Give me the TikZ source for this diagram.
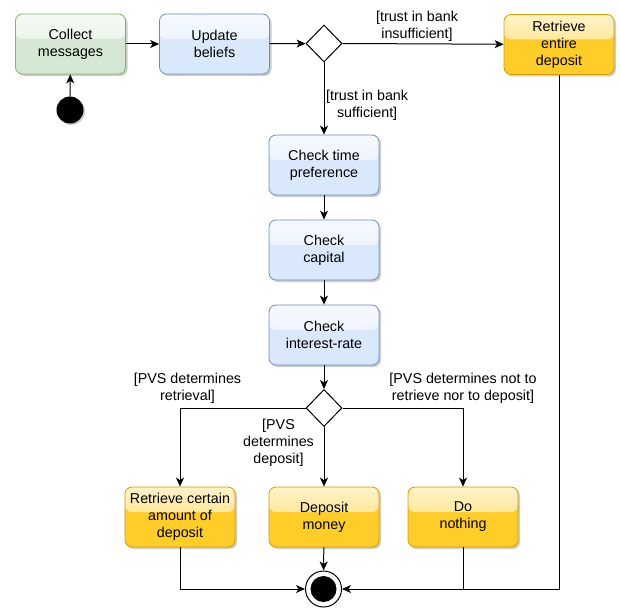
\documentclass[tikz,border=0pt]{standalone}
\usepackage{fontspec}
\setmainfont{Liberation Sans}
\usetikzlibrary{arrows.meta,shapes.geometric,shadows}

\definecolor{greenfill}{HTML}{D5E8D4}
\definecolor{greenline}{HTML}{82B366}
\definecolor{bluefill}{HTML}{DAE8FC}
\definecolor{blueline}{HTML}{6C8EBF}
\definecolor{goldfill}{HTML}{FFCD28}
\definecolor{goldline}{HTML}{D79B00}

\tikzset{
  txt/.style={font=\fontsize{14.3}{17}\selectfont, align=center},
  activity/.style 2 args={txt, rounded corners=7pt, minimum width=110pt, minimum height=60pt,
    inner sep=2pt, line width=0.8pt, draw=#2, fill=#1,
    drop shadow={shadow xshift=2pt, shadow yshift=-2pt, opacity=0.2, fill=black},
    path picture={\shade[top color=#1!25!white, bottom color=#1!75!white]
      (path picture bounding box.north west) rectangle
      ([yshift=-25pt]path picture bounding box.north east);}},
  greenact/.style={activity={greenfill}{greenline}},
  blueact/.style={activity={bluefill}{blueline}},
  goldact/.style={activity={goldfill}{goldline}},
  choice/.style={diamond, draw=black, fill=white, line width=1pt, inner sep=0pt,
    minimum width=36pt, minimum height=37pt},
  flow/.style={draw=black, line width=1pt, -{Stealth[length=9pt, width=8pt, inset=2.5pt]}},
  plain/.style={draw=black, line width=1pt},
  guard/.style={txt, inner sep=0pt}
}

\begin{document}
\begin{tikzpicture}[x=1pt, y=-1pt]
\useasboundingbox (0,0) rectangle (620,607);

% activities
\node[greenact] (collect) at (70.5,44) {Collect\\messages};
\node[blueact]  (update)  at (214.5,44) {Update\\beliefs};
\node[goldact]  (entire)  at (559,44.5) {Retrieve\\entire\\deposit};
\node[blueact]  (time)    at (324,165) {Check time\\preference};
\node[blueact]  (capital) at (324,250) {Check\\capital};
\node[blueact]  (rate)    at (324,335) {Check\\interest-rate};
\node[goldact]  (retr)    at (180,517) {Retrieve certain\\amount of\\deposit};
\node[goldact]  (depo)    at (324,517) {Deposit\\money};
\node[goldact]  (none)    at (463,517) {Do\\nothing};

% decisions
\node[choice] (d1) at (324,43.5) {};
\node[choice] (d2) at (324,408) {};

% start and end
\node[circle, fill=black, minimum size=27pt, inner sep=0pt,
      drop shadow={shadow xshift=1.5pt, shadow yshift=-1.5pt, opacity=0.2, fill=black}] (start) at (70,110) {};
\node[circle, draw=black, fill=white, line width=1pt, minimum size=36pt, inner sep=0pt] (end) at (323.5,589) {};
\node[circle, fill=black, minimum size=26pt, inner sep=0pt] (endin) at (end.center) {};

% guard labels
\node[guard] (g1) at (417,26) {[trust in bank\\insufficient]};
\node[guard, anchor=west] (g2) at (326,105) {[trust in bank\\sufficient]};
\node[guard] (g3) at (187.5,388) {[PVS determines\\retrieval]};
\node[guard] (g4) at (463,388) {[PVS determines not to\\retrieve nor to deposit]};
\node[guard] (g5) at (278.5,443) {[PVS\\determines\\deposit]};

% control flow
\draw[flow] (start) -- (collect);
\draw[flow] (collect) -- (update);
\draw[flow] (update) -- (d1);
\draw[flow] (d1.east) -- (entire);
\draw[flow] (d1.south) -- (time);
\draw[flow] (time) -- (capital);
\draw[flow] (capital) -- (rate);
\draw[flow] (rate) -- (d2);
\draw[flow] (d2.west) -| (retr);
\draw[flow] (d2.south) -- (depo);
\draw[flow] (d2.east) -| (none);
\draw[flow] (retr.south) |- (end.west);
\draw[flow] (depo) -- (end);
\draw[flow] (none.south) |- (end.east);
\draw[plain] (entire.south) |- (none.south |- end.east);
\end{tikzpicture}
\end{document}
